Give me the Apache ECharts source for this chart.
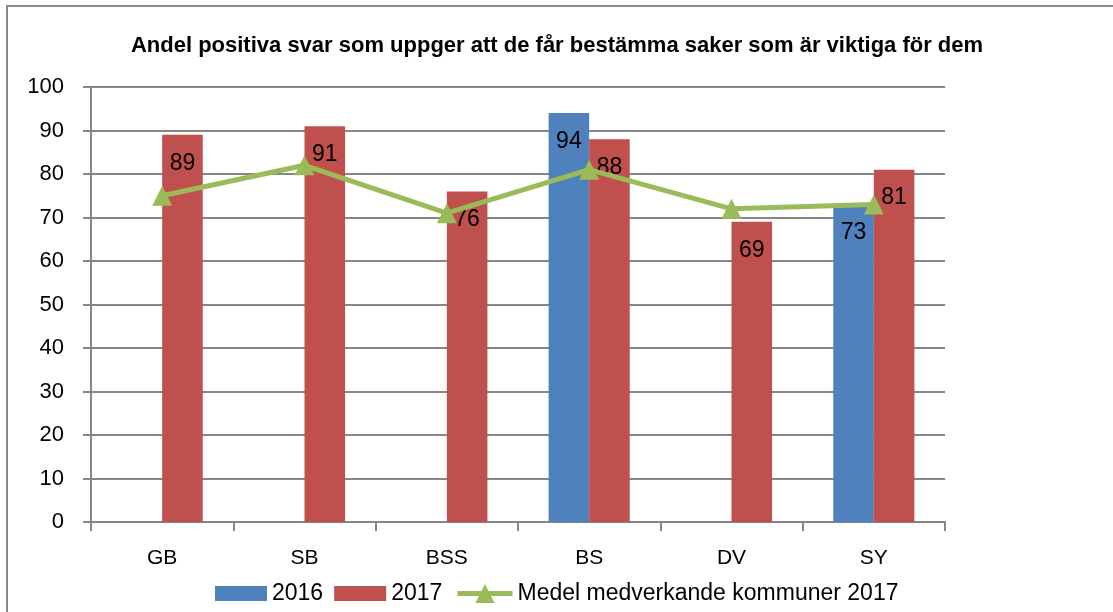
<!DOCTYPE html>
<html>
<head>
<meta charset="utf-8">
<script src="https://cdn.jsdelivr.net/npm/echarts@6/dist/echarts.min.js"></script>
<style>
  html, body { margin: 0; padding: 0; background: #fff; }
  .frame {
    position: absolute;
    left: 6px;
    top: 5px;
    width: 1200px;
    height: 700px;
    border: 2px solid #8a8a8a;
  }
  #chart { position: absolute; left: 0; top: 0; width: 1113px; height: 612px; }
</style>
</head>
<body>
<div class="frame"></div>
<div id="chart"></div>
<script>
// data
const categories = ["GB", "SB", "BSS", "BS", "DV", "SY"];
const values2016 = [null, null, null, 94, null, 73];
const values2017 = [89, 91, 76, 88, 69, 81];
const medel2017 = [75, 82, 71, 81, 72, 73];
const yTicks = [0, 100, 10]; // min, max, step

const chart = echarts.init(document.getElementById("chart"));
const font = "Liberation Sans";
const lineName = "Medel medverkande kommuner 2017";

const barLabel = {
  show: true,
  position: "insideTop",
  distance: 17,
  color: "#000",
  fontSize: 23,
  fontFamily: font
};

const legendText = { fontSize: 23, color: "#000", fontFamily: font };

let option = {
  animation: false,
  textStyle: { fontFamily: font },
  title: {
    text: "Andel positiva svar som uppger att de får bestämma saker som är viktiga för dem",
    left: 552,
    textAlign: "center",
    top: 30,
    textStyle: {
      fontSize: 22,
      fontWeight: "bold",
      color: "#000",
      fontFamily: font
    }
  },
  legend: [
    {
      top: 582,
      left: 215,
      padding: 0,
      itemWidth: 52,
      itemHeight: 15,
      itemGap: 11,
      textStyle: legendText,
      data: [
        { name: "2016", icon: "rect" },
        { name: "2017", icon: "rect" }
      ]
    },
    {
      top: 582,
      left: 455,
      padding: 0,
      itemWidth: 55,
      itemHeight: 24,
      textStyle: legendText,
      data: [{ name: lineName, lineStyle: { width: 5, color: "#9BBB59" } }]
    }
  ],
  grid: {
    left: 91,
    right: 168,
    top: 87,
    bottom: 90
  },
  xAxis: {
    type: "category",
    data: categories,
    axisLine: { lineStyle: { color: "#868686", width: 2 } },
    axisTick: { show: true, length: 9, lineStyle: { color: "#868686", width: 2 } },
    axisLabel: { color: "#000", fontSize: 21, margin: 26, fontFamily: font }
  },
  yAxis: {
    type: "value",
    min: yTicks[0],
    max: yTicks[1],
    interval: yTicks[2],
    axisLine: { show: true, lineStyle: { color: "#868686", width: 2 } },
    axisTick: { show: true, length: 8, lineStyle: { color: "#868686", width: 2 } },
    splitLine: { lineStyle: { color: "#868686", width: 2 } },
    axisLabel: { color: "#000", fontSize: 22, margin: 27, fontFamily: font }
  },
  series: [
    {
      name: "2016",
      type: "bar",
      data: values2016,
      barWidth: "28.5%",
      barGap: "0%",
      itemStyle: { color: "#4F81BD" },
      label: barLabel
    },
    {
      name: "2017",
      type: "bar",
      data: values2017,
      barWidth: "28.5%",
      itemStyle: { color: "#C0504D" },
      label: barLabel
    },
    {
      name: lineName,
      type: "line",
      data: medel2017,
      symbol: "triangle",
      symbolSize: 20,
      z: 5,
      lineStyle: { color: "#9BBB59", width: 5 },
      itemStyle: { color: "#9BBB59" }
    }
  ]
};

chart.setOption(option);
</script>
</body>
</html>
